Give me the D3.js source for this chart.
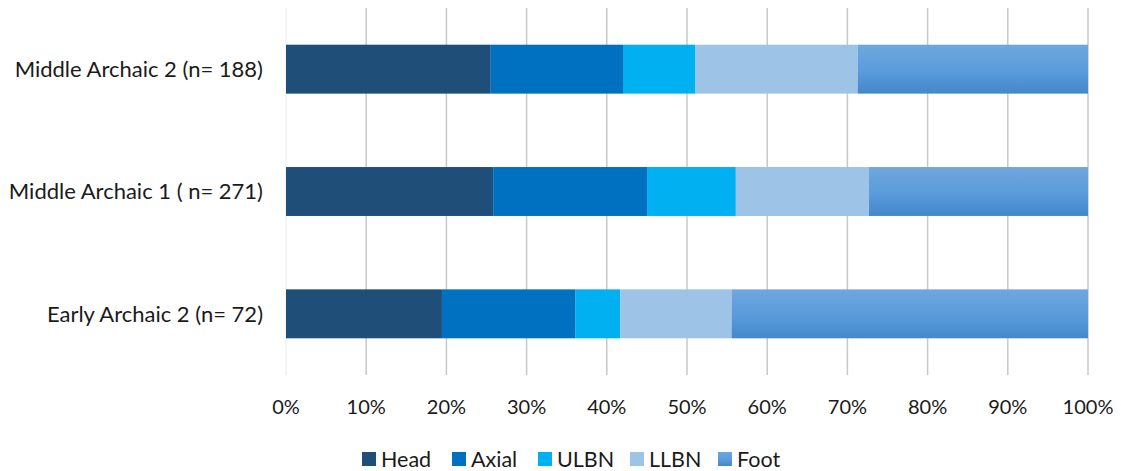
<!DOCTYPE html>
<html>
<head>
<meta charset="utf-8">
<script src="https://cdn.jsdelivr.net/npm/d3@7"></script>
<style>
  html, body { margin: 0; padding: 0; background: #fff; }
  svg text { font-family: Lato, "Open Sans", sans-serif; fill: #1a1a1a; }
</style>
</head>
<body>
<svg id="chart" width="1121" height="471"></svg>
<script>
// Skeletal element counts by period (converted to proportions for a 100% stacked bar)
const periods = ["Middle Archaic 2 (n= 188)", "Middle Archaic 1 ( n= 271)", "Early Archaic 2 (n= 72)"];
const parts = ["Head", "Axial", "ULBN", "LLBN", "Foot"];
const head  = [48, 70, 14];
const axial = [31, 52, 12];
const ulbn  = [17, 30, 4];
const llbn  = [38, 45, 10];
const foot  = [54, 74, 32];
const ticks = [0, 0.1, 0.2, 0.3, 0.4, 0.5, 0.6, 0.7, 0.8, 0.9, 1];

const colors = ["#1f4e79", "#0070c0", "#00b0f0", "#9dc3e6", "url(#footGrad)"];

const rows = periods.map((p, i) => {
  const vals = [head[i], axial[i], ulbn[i], llbn[i], foot[i]];
  const total = d3.sum(vals);
  const r = { period: p };
  parts.forEach((k, j) => r[k] = vals[j] / total);
  return r;
});

const svg = d3.select("#chart");
const defs = svg.append("defs");
const g0 = defs.append("linearGradient").attr("id", "footGrad")
  .attr("x1", 0).attr("y1", 0).attr("x2", 0).attr("y2", 1);
g0.append("stop").attr("offset", "0%").attr("stop-color", "#70a7dd");
g0.append("stop").attr("offset", "55%").attr("stop-color", "#599bdb");
g0.append("stop").attr("offset", "100%").attr("stop-color", "#4488ca");

const plot = { left: 286, right: 1088, top: 8, bottom: 375 };

const x = d3.scaleLinear().domain([0, 1]).range([plot.left, plot.right]);
const y = d3.scaleBand().domain(periods).range([plot.top, plot.bottom]).paddingInner(0.6).paddingOuter(0.3);

// vertical gridlines
svg.append("g").selectAll("line").data(ticks).join("line")
  .attr("x1", d => x(d)).attr("x2", d => x(d))
  .attr("y1", plot.top).attr("y2", plot.bottom)
  .attr("stroke", d => d === 0 ? "#f0f0f0" : "#c8c8c8")
  .attr("stroke-width", 1.5);

// stacked segments
const stack = d3.stack().keys(parts)(rows);
svg.append("g").selectAll("g").data(stack).join("g")
  .attr("fill", (d, i) => colors[i])
  .selectAll("rect").data(d => d).join("rect")
  .attr("x", d => x(d[0]))
  .attr("width", d => x(d[1]) - x(d[0]))
  .attr("y", d => y(d.data.period))
  .attr("height", y.bandwidth());

// category labels
svg.append("g").selectAll("text").data(periods).join("text")
  .attr("x", 263)
  .attr("y", d => y(d) + y.bandwidth() / 2)
  .attr("dy", "0.35em")
  .attr("text-anchor", "end")
  .attr("font-size", 22)
  .text(d => d);

// x axis tick labels
const fmt = d3.format(".0%");
svg.append("g").selectAll("text").data(ticks).join("text")
  .attr("x", d => x(d))
  .attr("y", 414)
  .attr("text-anchor", "middle")
  .attr("font-size", 20)
  .text(d => fmt(d));

// legend
const legendX = [362, 452, 538, 630, 718];
const leg = svg.append("g").selectAll("g").data(parts).join("g")
  .attr("transform", (d, i) => `translate(${legendX[i]},452)`);
leg.append("rect").attr("width", 14).attr("height", 14)
  .attr("fill", (d, i) => colors[i]);
leg.append("text").attr("x", 19).attr("y", 7).attr("dy", "0.35em")
  .attr("font-size", 21.5).text(d => d);
</script>
</body>
</html>
